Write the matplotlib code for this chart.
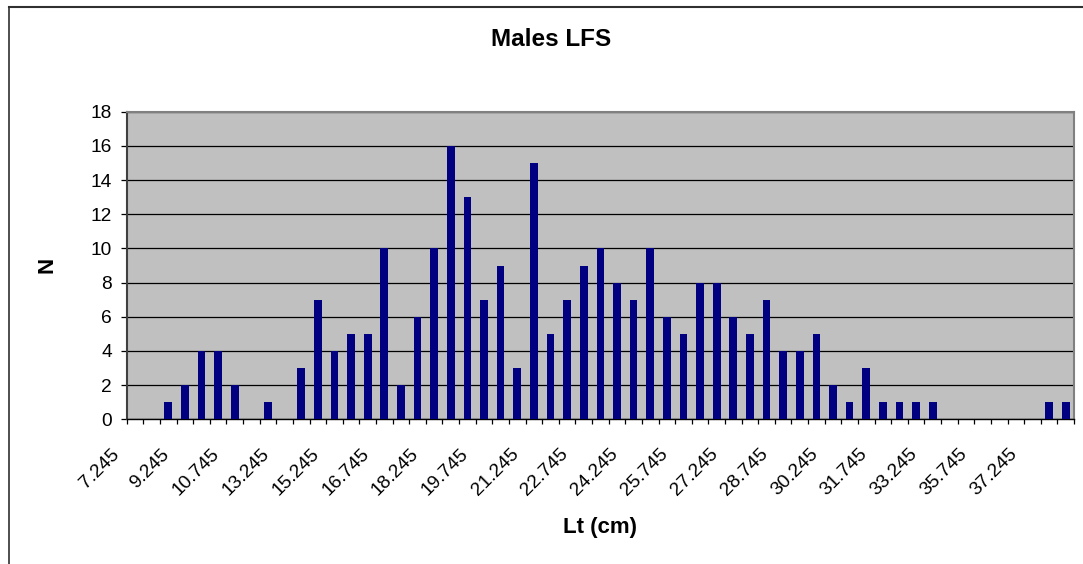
import matplotlib
matplotlib.use('Agg')
import matplotlib.pyplot as plt
import matplotlib.transforms as mtransforms
from matplotlib.lines import Line2D

plt.rcParams['font.family'] = ['Liberation Sans', 'DejaVu Sans']

# counts per length class (57 classes, only every 3rd labelled on the axis)
counts = [0, 0, 1, 2, 4, 4, 2, 0, 1, 0,
          3, 7, 4, 5, 5, 10, 2, 6, 10, 16,
          13, 7, 9, 3, 15, 5, 7, 9, 10, 8,
          7, 10, 6, 5, 8, 8, 6, 5, 7, 4,
          4, 5, 2, 1, 3, 1, 1, 1, 1, 0,
          0, 0, 0, 0, 0, 1, 1]
tick_labels = ['7.245', '9.245', '10.745', '13.245', '15.245', '16.745', '18.245',
               '19.745', '21.245', '22.745', '24.245', '25.745', '27.245', '28.745',
               '30.245', '31.745', '33.245', '35.745', '37.245']
yticks = list(range(0, 19, 2))

W, H = 1083, 564
fig = plt.figure(figsize=(W/100, H/100), dpi=100)
ax = fig.add_axes([126.7/W, 1-419.3/H, (1074-126.7)/W, (419.3-111.7)/H])
ax.set_facecolor('#C0C0C0')

x = list(range(len(counts)))
ax.bar(x, counts, width=0.46, color='#000080', zorder=3)

ax.set_xlim(-0.5, len(counts)-0.5)
ax.set_ylim(0, 18)
ax.set_yticks(yticks)
ax.yaxis.grid(True, color='black', lw=0.9, zorder=1)
ax.set_axisbelow(True)

# category boundaries get the tick marks, centres get the labels
ax.set_xticks([i*3 for i in range(len(tick_labels))])
ax.set_xticks([i-0.5 for i in range(len(counts)+1)], minor=True)
ax.set_xticklabels(tick_labels, rotation=45, ha='right', fontsize=13.8)
ax.tick_params(axis='x', which='major', length=0, pad=19)
ax.tick_params(axis='x', which='minor', length=3.3, width=0.9, color='black', direction='out')
ax.tick_params(axis='y', length=4.3, width=0.9, pad=6.5, labelsize=13.8)
shift = mtransforms.ScaledTranslation(-12/100, 0, fig.dpi_scale_trans)
for lab in ax.get_xticklabels():
    lab.set_transform(lab.get_transform() + shift)

for s in ['top', 'right']:
    ax.spines[s].set_color('#808080')
    ax.spines[s].set_linewidth(1.5)
ax.spines['left'].set_color('#404040')
ax.spines['left'].set_linewidth(1.5)
ax.spines['bottom'].set_color('black')
ax.spines['bottom'].set_linewidth(1.0)

fig.text(551/W, 1-46.5/H, 'Males LFS', ha='center', va='baseline',
         fontsize=17.5, fontweight='bold')
fig.text(600/W, 1-532.7/H, 'Lt (cm)', ha='center', va='baseline',
         fontsize=16, fontweight='bold')
fig.text(47/W, 1-265/H, 'N', ha='center', va='center', rotation=90,
         fontsize=16, fontweight='bold')

# outer chart border (cropped on right and bottom)
fig.add_artist(Line2D([8.5/W, 8.5/W], [0, 1-7/H], color='#303030', lw=1.2,
                      transform=fig.transFigure))
fig.add_artist(Line2D([8.5/W, 1], [1-7/H, 1-7/H], color='#303030', lw=1.5,
                      transform=fig.transFigure))

fig.savefig('out.png', dpi=100)
